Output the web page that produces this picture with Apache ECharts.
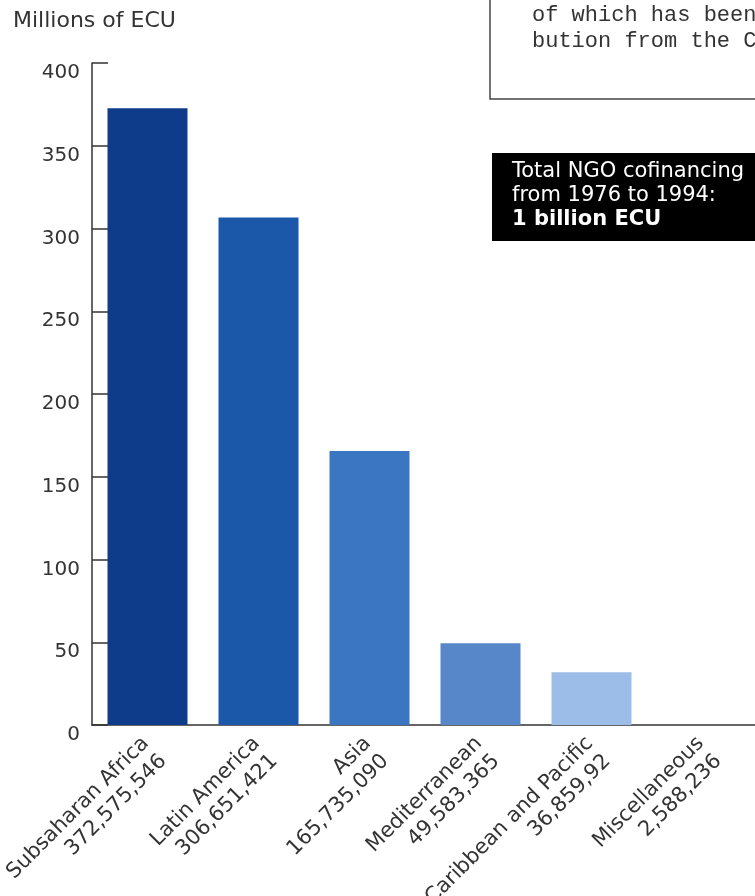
<!DOCTYPE html>
<html>
<head>
<meta charset="utf-8">
<script src="https://cdn.jsdelivr.net/npm/echarts@6/dist/echarts.min.js"></script>
<style>
  html, body { margin: 0; padding: 0; background: #fff; }
  #chart { width: 755px; height: 896px; }
</style>
</head>
<body>
<div id="chart"></div>
<script>
// regions and cofinancing amounts (millions of ECU)
const categories = ['Subsaharan Africa', 'Latin America', 'Asia', 'Mediterranean', 'Caribbean and Pacific', 'Miscellaneous']
const amountLabels = ['372,575,546', '306,651,421', '165,735,090', '49,583,365', '36,859,92', '2,588,236']
const values = [372.6, 306.6, 165.5, 49.4, 31.8, 0]
const yTicks = [0, 50, 100, 150, 200, 250, 300, 350, 400]

const barColors = ['#0f3c8a', '#1b58aa', '#3b76c2', '#5787c8', '#9dbde9', '#c8dbf3']
const ink = '#333'
const font = 'DejaVu Sans'

const chart = echarts.init(document.getElementById('chart'), null, { renderer: 'canvas' })

const option = {
  animation: false,
  grid: { left: 92, top: 63, width: 666, bottom: 171, containLabel: false, outerBoundsMode: 'none' },
  xAxis: {
    type: 'category',
    data: categories,
    boundaryGap: true,
    axisLine: { lineStyle: { color: ink, width: 1.5 } },
    axisTick: { inside: true, length: 16, lineStyle: { color: ink, width: 1.5 } },
    axisLabel: {
      interval: 0,
      rotate: 45,
      margin: 17,
      padding: [20, 0, 0, 0],
      color: ink,
      fontFamily: font,
      fontSize: 21,
      lineHeight: 25,
      formatter: (val, i) => '{a|' + val + '}\n{a|' + amountLabels[i] + '}',
      rich: { a: { align: 'right', fontFamily: font, fontSize: 21, lineHeight: 25, color: ink } }
    }
  },
  yAxis: {
    type: 'value',
    min: yTicks[0],
    max: yTicks[yTicks.length - 1],
    interval: 50,
    splitLine: { show: false },
    axisLine: { show: true, lineStyle: { color: ink, width: 1.5 } },
    axisTick: { show: true, inside: true, length: 16, lineStyle: { color: ink, width: 1.5 } },
    // labels sit a little below their ticks in the original
    axisLabel: { color: ink, fontFamily: font, fontSize: 20, margin: 12, verticalAlign: 'top', lineHeight: 20 }
  },
  series: [
    {
      type: 'bar',
      barWidth: 80,
      data: values.map((v, i) => ({ value: v, itemStyle: { color: barColors[i] } }))
    }
  ],
  graphic: [
    {
      type: 'text',
      left: 13,
      top: 10,
      style: { text: 'Millions of ECU', fill: ink, font: '22px "DejaVu Sans"' }
    },
    {
      type: 'rect',
      shape: { x: 490, y: -20, width: 300, height: 119 },
      style: { fill: '#fff', stroke: '#444', lineWidth: 1.5 }
    },
    {
      type: 'text',
      x: 532,
      y: 2,
      style: {
        text: 'of which has been\nbution from the C',
        fill: ink,
        font: '22px "Liberation Mono"',
        lineHeight: 26
      }
    },
    {
      type: 'rect',
      shape: { x: 492, y: 153, width: 280, height: 88 },
      style: { fill: '#000' }
    },
    {
      type: 'text',
      x: 512,
      y: 160,
      style: {
        text: '{n|Total NGO cofinancing}\n{n|from 1976 to 1994:}\n{b|1 billion ECU}',
        rich: {
          n: { fill: '#fff', font: '21px "DejaVu Sans"', lineHeight: 24 },
          b: { fill: '#fff', font: 'bold 21px "DejaVu Sans"', lineHeight: 24 }
        }
      }
    }
  ]
}

chart.setOption(option)
</script>
</body>
</html>
